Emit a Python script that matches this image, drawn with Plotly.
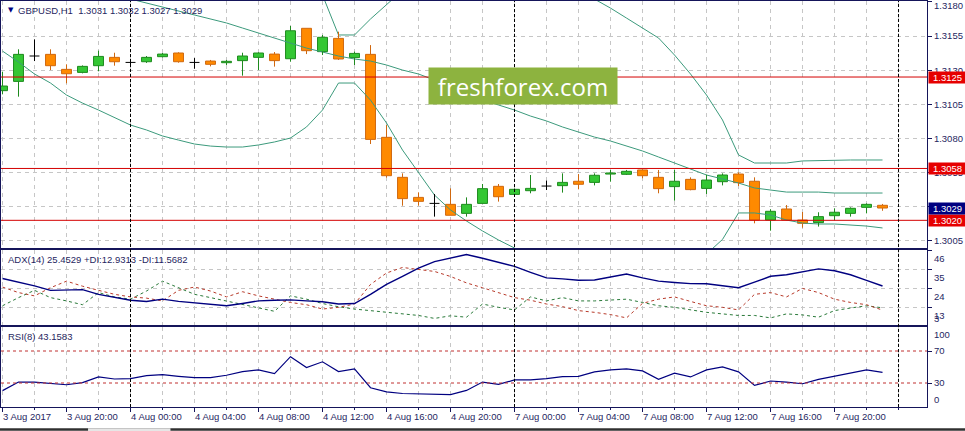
import plotly.graph_objects as go

# ---------------- data ----------------
bars = list(range(56))  # hourly bars, 3 Aug 16:00 .. 7 Aug 23:00

open_ = [1.31150, 1.31218, 1.31404, 1.31416, 1.31306, 1.31284, 1.31333, 1.31394, 1.31357, 1.31362,
         1.31399, 1.31426, 1.31357, 1.31367, 1.31355, 1.31370, 1.31394, 1.31418, 1.31384, 1.31607,
         1.31436, 1.31533, 1.31392, 1.31416, 1.30808, 1.30515, 1.30368, 1.30324, 1.30317, 1.30251,
         1.30324, 1.30449, 1.30390, 1.30417, 1.30451, 1.30454, 1.30486, 1.30478, 1.30539, 1.30537,
         1.30569, 1.30515, 1.30447, 1.30500, 1.30434, 1.30483, 1.30539, 1.30486, 1.30202, 1.30283,
         1.30202, 1.30183, 1.30234, 1.30251, 1.30295, 1.30310]
high = [1.31289, 1.31453, 1.31526, 1.31453, 1.31343, 1.31335, 1.31443, 1.31428, 1.31375, 1.31404,
        1.31426, 1.31431, 1.31389, 1.31375, 1.31375, 1.31428, 1.31431, 1.31433, 1.31624, 1.31607,
        1.31558, 1.31582, 1.31436, 1.31484, 1.30898, 1.30544, 1.30405, 1.30393, 1.30434, 1.30368,
        1.30466, 1.30466, 1.30432, 1.30532, 1.30491, 1.30544, 1.30539, 1.30544, 1.30569, 1.30569,
        1.30574, 1.30569, 1.30569, 1.30515, 1.30534, 1.30544, 1.30551, 1.30515, 1.30281, 1.30312,
        1.30261, 1.30259, 1.30288, 1.30295, 1.30324, 1.30320]
low = [1.31123, 1.31106, 1.31367, 1.31301, 1.31204, 1.31277, 1.31292, 1.31333, 1.31323, 1.31353,
       1.31394, 1.31355, 1.31311, 1.31328, 1.31338, 1.31260, 1.31301, 1.31326, 1.31362, 1.31418,
       1.31411, 1.31375, 1.31338, 1.30759, 1.30513, 1.30307, 1.30307, 1.30227, 1.30237, 1.30227,
       1.30324, 1.30337, 1.30386, 1.30398, 1.30422, 1.30403, 1.30427, 1.30456, 1.30483, 1.30532,
       1.30508, 1.30398, 1.30344, 1.30420, 1.30393, 1.30456, 1.30451, 1.30178, 1.30124, 1.30200,
       1.30146, 1.30154, 1.30202, 1.30227, 1.30251, 1.30270]
close = [1.31184, 1.31416, 1.31404, 1.31333, 1.31274, 1.31328, 1.31401, 1.31362, 1.31357, 1.31394,
         1.31418, 1.31362, 1.31357, 1.31343, 1.31365, 1.31404, 1.31426, 1.31370, 1.31589, 1.31443,
         1.31541, 1.31382, 1.31423, 1.30793, 1.30527, 1.30359, 1.30339, 1.30324, 1.30237, 1.30317,
         1.30432, 1.30373, 1.30427, 1.30434, 1.30451, 1.30478, 1.30464, 1.30530, 1.30547, 1.30559,
         1.30527, 1.30432, 1.30486, 1.30425, 1.30495, 1.30532, 1.30476, 1.30202, 1.30266, 1.30202,
         1.30178, 1.30227, 1.30259, 1.30288, 1.30317, 1.30290]

bb_upper = [1.32686, 1.32708, 1.32736, 1.32730, 1.32760, 1.32759, 1.32752, 1.32752, 1.32744, 1.32722,
            1.32708, 1.32678, 1.32649, 1.32606, 1.32555, 1.32481, 1.32392, 1.32298, 1.32195, 1.32040,
            1.31851, 1.31558, 1.31558, 1.31675, 1.31777, 1.31887, 1.31990, 1.32071, 1.32092, 1.32071,
            1.32040, 1.32034, 1.32019, 1.31988, 1.31976, 1.31928, 1.31884, 1.31821, 1.31755, 1.31682,
            1.31609, 1.31536, 1.31411, 1.31272, 1.31118, 1.30935, 1.30679, 1.30620, 1.30620, 1.30620,
            1.30635, 1.30638, 1.30642, 1.30642, 1.30642, 1.30642]
bb_middle = [1.32063, 1.32034, 1.32004, 1.31968, 1.31939, 1.31909, 1.31880, 1.31851, 1.31821, 1.31792,
             1.31763, 1.31733, 1.31704, 1.31675, 1.31646, 1.31609, 1.31572, 1.31536, 1.31499, 1.31462,
             1.31433, 1.31404, 1.31382, 1.31367, 1.31338, 1.31301, 1.31272, 1.31228, 1.31184, 1.31133,
             1.31081, 1.31045, 1.31008, 1.30964, 1.30928, 1.30884, 1.30847, 1.30810, 1.30781, 1.30745,
             1.30708, 1.30664, 1.30620, 1.30576, 1.30532, 1.30503, 1.30473, 1.30437, 1.30422, 1.30407,
             1.30407, 1.30407, 1.30400, 1.30400, 1.30400, 1.30400]
bb_lower = [1.31440, 1.31360, 1.31272, 1.31206, 1.31118, 1.31059, 1.31008, 1.30950, 1.30898, 1.30862,
            1.30818, 1.30788, 1.30759, 1.30744, 1.30737, 1.30737, 1.30752, 1.30774, 1.30803, 1.30884,
            1.31008, 1.31206, 1.31206, 1.31081, 1.30913, 1.30715, 1.30554, 1.30385, 1.30276, 1.30195,
            1.30122, 1.30056, 1.29997, 1.29940, 1.29880, 1.29840, 1.29810, 1.29799, 1.29807, 1.29808,
            1.29807, 1.29792, 1.29829, 1.29880, 1.29953, 1.30060, 1.30254, 1.30254, 1.30239, 1.30202,
            1.30180, 1.30173, 1.30173, 1.30166, 1.30158, 1.30144]

adx = [29.8, 27.7, 25.6, 23.0, 23.0, 23.4, 20.7, 18.8, 17.3, 16.6,
       17.9, 16.6, 15.8, 14.9, 14.1, 15.4, 16.9, 17.3, 17.5, 16.9,
       16.4, 15.1, 15.4, 20.7, 26.4, 31.1, 35.8, 39.6, 41.8, 43.7,
       41.5, 39.2, 36.8, 33.4, 30.2, 29.6, 28.8, 29.0, 30.7, 32.4,
       30.2, 28.3, 27.5, 26.9, 26.8, 25.6, 24.5, 27.7, 31.1, 32.0,
       33.9, 35.4, 34.3, 32.0, 28.8, 25.5]
plus_di = [14.1, 18.8, 23.0, 18.8, 16.9, 14.7, 21.7, 19.2, 17.9, 22.6,
           28.3, 24.5, 20.7, 18.8, 16.9, 15.1, 12.8, 10.9, 19.8, 17.9,
           15.4, 13.5, 12.2, 11.3, 10.2, 9.4, 8.5, 6.8, 8.3, 7.5,
           15.1, 13.2, 11.7, 19.2, 16.9, 18.8, 16.9, 16.9, 17.5, 17.9,
           16.0, 14.1, 13.2, 11.7, 10.3, 9.4, 8.5, 8.5, 7.1, 9.4,
           8.8, 7.5, 11.3, 12.8, 14.1, 12.9]
minus_di = [24.9, 21.7, 19.8, 24.5, 28.3, 25.4, 23.0, 20.7, 19.2, 18.5,
            16.9, 23.0, 24.9, 22.6, 19.2, 22.2, 19.8, 17.9, 16.0, 14.7,
            12.2, 13.2, 15.1, 26.4, 33.0, 36.2, 34.9, 33.9, 31.0, 27.3,
            24.5, 21.7, 18.8, 17.3, 15.1, 13.6, 11.3, 10.3, 9.0, 7.1,
            15.5, 17.9, 19.2, 16.6, 14.1, 13.2, 11.7, 20.7, 21.7, 19.2,
            24.1, 21.7, 17.9, 16.0, 14.7, 11.6]
rsi = [20.5, 31.2, 31.2, 29.5, 27.8, 30.4, 37.6, 35.0, 35.4, 39.2,
       40.5, 38.4, 36.7, 36.7, 39.7, 44.3, 46.4, 41.8, 62.9, 49.4,
       56.5, 44.3, 47.7, 24.1, 19.0, 16.9, 16.5, 16.5, 15.4, 20.7,
       31.2, 28.3, 33.8, 33.8, 35.4, 38.0, 38.4, 43.9, 46.4, 47.7,
       45.1, 34.6, 42.2, 37.6, 46.4, 50.2, 43.9, 27.0, 32.5, 31.2,
       29.1, 34.6, 38.8, 42.2, 46.4, 43.2]

level_prices = [1.3125, 1.3058, 1.3020]
level_labels = ["1.3125", "1.3058", "1.3020"]
last_price = 1.3029
last_label = "1.3029"
price_ticks = [1.3005, 1.3030, 1.3055, 1.3080, 1.3105, 1.3130, 1.3155, 1.3180]
price_tick_text = ["1.3005", "1.3030", "1.3055", "1.3080", "1.3105", "1.3130", "1.3155", ""]
price_top_label = "1.3180"
adx_ticks = [46, 35, 24, 13]
adx_min_label = 3
rsi_levels = [70, 30]
rsi_labels = [100, 70, 30, 0]
time_tick_bars = [0, 4, 8, 12, 16, 20, 24, 28, 32, 36, 40, 44, 48, 52]
time_tick_labels = ["3 Aug 2017", "3 Aug 20:00", "4 Aug 00:00", "4 Aug 04:00", "4 Aug 08:00",
                    "4 Aug 12:00", "4 Aug 16:00", "4 Aug 20:00", "7 Aug 00:00", "7 Aug 04:00",
                    "7 Aug 08:00", "7 Aug 12:00", "7 Aug 16:00", "7 Aug 20:00"]
day_separators = [8, 32, 56]
title_text = "GBPUSD,H1\u00a0\u00a01.3031 1.3032 1.3027 1.3029"
adx_title = "ADX(14) 25.4529 +DI:12.9313 -DI:11.5682"
rsi_title = "RSI(8) 43.1583"

# ---------------- styling ----------------
FONT = "Liberation Sans, Arial, sans-serif"
TXT = "#1f1f5f"
FRAME = "#15155a"
GRID = "#c6c6c6"
BULL_FILL, BULL_LINE = "#34c734", "#1e8a1e"
BEAR_FILL, BEAR_LINE = "#ff8a00", "#d0680f"
BAND = "#3c9a7c"
HALF = 0.31

bull_x, bull_b, bull_h = [], [], []
bear_x, bear_b, bear_h = [], [], []
bull_wx, bull_wy, bear_wx, bear_wy = [], [], [], []
doji_x, doji_y = [], []
for i, (o, h, l, c) in enumerate(zip(open_, high, low, close)):
    top, bot = max(o, c), min(o, c)
    if abs(c - o) < 1e-9:
        doji_x += [i - HALF, i + HALF, None, i, i, None]
        doji_y += [o, o, None, h, l, None]
    elif c > o:
        bull_x.append(i); bull_b.append(o); bull_h.append(c - o)
        bull_wx += [i, i, None, i, i, None]
        bull_wy += [h, top, None, bot, l, None]
    else:
        bear_x.append(i); bear_b.append(c); bear_h.append(o - c)
        bear_wx += [i, i, None, i, i, None]
        bear_wy += [h, top, None, bot, l, None]

fig = go.Figure()
# Bollinger bands
for band in (bb_upper, bb_middle, bb_lower):
    fig.add_trace(go.Scatter(x=bars, y=band, mode="lines", line=dict(color=BAND, width=1),
                             hoverinfo="skip", xaxis="x", yaxis="y"))
# candle bodies
fig.add_trace(go.Bar(x=bull_x, y=bull_h, base=bull_b, width=0.62,
                     marker=dict(color=BULL_FILL, line=dict(color=BULL_LINE, width=1)),
                     hoverinfo="skip", xaxis="x", yaxis="y"))
fig.add_trace(go.Bar(x=bear_x, y=bear_h, base=bear_b, width=0.62,
                     marker=dict(color=BEAR_FILL, line=dict(color=BEAR_LINE, width=1)),
                     hoverinfo="skip", xaxis="x", yaxis="y"))
# wicks
fig.add_trace(go.Scatter(x=bull_wx, y=bull_wy, mode="lines", line=dict(color=BULL_LINE, width=1),
                         hoverinfo="skip", xaxis="x", yaxis="y"))
fig.add_trace(go.Scatter(x=bear_wx, y=bear_wy, mode="lines", line=dict(color=BEAR_LINE, width=1),
                         hoverinfo="skip", xaxis="x", yaxis="y"))
fig.add_trace(go.Scatter(x=doji_x, y=doji_y, mode="lines", line=dict(color="#000000", width=1),
                         hoverinfo="skip", xaxis="x", yaxis="y"))

# ADX panel
fig.add_trace(go.Scatter(x=bars, y=plus_di, mode="lines",
                         line=dict(color="#2a7a3a", width=1, dash="3px,3px"),
                         hoverinfo="skip", xaxis="x2", yaxis="y2"))
fig.add_trace(go.Scatter(x=bars, y=minus_di, mode="lines",
                         line=dict(color="#b83a2a", width=1, dash="3px,3px"),
                         hoverinfo="skip", xaxis="x2", yaxis="y2"))
fig.add_trace(go.Scatter(x=bars, y=adx, mode="lines", line=dict(color="#000080", width=1.4),
                         hoverinfo="skip", xaxis="x2", yaxis="y2"))
# RSI panel
fig.add_trace(go.Scatter(x=bars, y=rsi, mode="lines", line=dict(color="#000080", width=1.2),
                         hoverinfo="skip", xaxis="x3", yaxis="y3"))

shapes = []
for p in level_prices:
    shapes.append(dict(type="line", xref="paper", x0=0, x1=1, yref="y", y0=p, y1=p,
                       line=dict(color="#d40000", width=1)))
for lv in rsi_levels:
    shapes.append(dict(type="line", xref="paper", x0=0, x1=1, yref="y3", y0=lv, y1=lv,
                       line=dict(color="#c03030", width=1, dash="3px,3px")))
for s in day_separators:
    shapes.append(dict(type="line", xref="x", x0=s, x1=s, yref="paper", y0=0, y1=1,
                       line=dict(color="#000000", width=1, dash="3px,2px")))
# bottom tab strip
shapes.append(dict(type="rect", xref="paper", yref="paper", x0=-0.01, x1=1.05,
                   y0=-0.0585, y1=-0.0525, fillcolor="#303030", line=dict(width=0), layer="above"))
shapes.append(dict(type="rect", xref="paper", yref="paper", x0=0.094, x1=0.183,
                   y0=-0.066, y1=-0.0525, fillcolor="#e6e6e6", line=dict(width=0), layer="above"))

ann = []
# top price label (kept inside the page)
ann.append(dict(xref="paper", x=1, xanchor="left", xshift=5, yref="paper", y=1, yanchor="top",
                yshift=3, text=price_top_label, showarrow=False,
                font=dict(family=FONT, size=9.5, color=TXT)))
# price level labels
for p, t in zip(level_prices, level_labels):
    ann.append(dict(xref="paper", x=1, xanchor="left", xshift=1, yref="y", y=p, text=t,
                    showarrow=False, font=dict(family=FONT, size=9.5, color="white"),
                    bgcolor="#e60000", width=37, height=11, borderpad=0, align="center"))
ann.append(dict(xref="paper", x=1, xanchor="left", xshift=1, yref="y", y=last_price, text=last_label,
                showarrow=False, font=dict(family=FONT, size=9.5, color="white"),
                bgcolor="#000080", width=37, height=11, borderpad=0, align="center"))
# sub-window edge labels
ann.append(dict(xref="paper", x=1, xanchor="left", xshift=5, yref="y2", y=adx_min_label,
                yanchor="bottom", yshift=-1, text=str(adx_min_label), showarrow=False,
                font=dict(family=FONT, size=9.5, color=TXT)))
ann.append(dict(xref="paper", x=1, xanchor="left", xshift=5, yref="y3", y=rsi_labels[0],
                yanchor="top", text=str(rsi_labels[0]), showarrow=False,
                font=dict(family=FONT, size=9.5, color=TXT)))
ann.append(dict(xref="paper", x=1, xanchor="left", xshift=5, yref="y3", y=rsi_labels[-1],
                yanchor="bottom", text=str(rsi_labels[-1]), showarrow=False,
                font=dict(family=FONT, size=9.5, color=TXT)))
# time labels
for b, t in zip(time_tick_bars, time_tick_labels):
    ann.append(dict(xref="x3", x=b, xanchor="left", xshift=-2, yref="paper", y=0, yanchor="top",
                    yshift=-2, text=t, showarrow=False, font=dict(family=FONT, size=9.5, color=TXT)))
# titles
ann.append(dict(xref="paper", x=0, xanchor="left", xshift=5, yref="paper", y=1, yanchor="top",
                yshift=-3, text="\u25bc", showarrow=False, font=dict(family="DejaVu Sans", size=7, color="#000080")))
ann.append(dict(xref="paper", x=0, xanchor="left", xshift=15, yref="paper", y=1, yanchor="top",
                yshift=-2, text=title_text, showarrow=False, font=dict(family=FONT, size=9.5, color=TXT)))
ann.append(dict(xref="paper", x=0, xanchor="left", xshift=5, yref="paper", y=0.3855, yanchor="top",
                yshift=-2, text=adx_title, showarrow=False, font=dict(family=FONT, size=9.5, color=TXT)))
ann.append(dict(xref="paper", x=0, xanchor="left", xshift=5, yref="paper", y=0.197, yanchor="top",
                yshift=-2, text=rsi_title, showarrow=False, font=dict(family=FONT, size=9.5, color=TXT)))
# watermark logo
ann.append(dict(xref="paper", x=0.5637, xanchor="center", yref="paper", y=0.7906, yanchor="middle",
                text="freshforex.com", showarrow=False, bgcolor="#8db33f", width=186, height=34,
                font=dict(family="Open Sans", size=24, color="white")))

xcommon = dict(range=[-0.094, 57.78], tickmode="array", tickvals=time_tick_bars,
               showticklabels=False, showgrid=True, gridcolor=GRID, griddash="4px,4px", gridwidth=1,
               minor=dict(tick0=0, dtick=2, showgrid=True, gridcolor=GRID, griddash="4px,4px"),
               showline=True, mirror=True, linecolor=FRAME, linewidth=1, zeroline=False,
               automargin=False, fixedrange=True)
ycommon = dict(side="right", showline=True, mirror=True, linecolor=FRAME, linewidth=1,
               zeroline=False, automargin=False, ticks="outside", ticklen=4, tickcolor=FRAME,
               tickfont=dict(family=FONT, size=9.5, color=TXT), gridcolor=GRID,
               griddash="4px,4px", fixedrange=True)

fig.update_layout(
    width=965, height=431,
    margin=dict(l=1, r=38, t=1, b=24),
    paper_bgcolor="white", plot_bgcolor="white",
    showlegend=False, barmode="overlay",
    xaxis=dict(xcommon, anchor="y", domain=[0, 1], ticks=""),
    xaxis2=dict(xcommon, anchor="y2", domain=[0, 1], matches="x", ticks=""),
    xaxis3=dict(xcommon, anchor="y3", domain=[0, 1], matches="x", ticks="outside", ticklen=4,
                tickcolor=FRAME),
    yaxis=dict(ycommon, anchor="x", domain=[0.3909, 1], range=[1.29995, 1.31807],
               tickmode="array", tickvals=price_ticks, ticktext=price_tick_text, showgrid=True),
    yaxis2=dict(ycommon, anchor="x2", domain=[0.2020, 0.3855], range=[3, 46],
                tickmode="array", tickvals=adx_ticks, ticklabelshift=8, showgrid=True),
    yaxis3=dict(ycommon, anchor="x3", domain=[0, 0.197], range=[0, 100],
                tickmode="array", tickvals=rsi_levels, showgrid=False),
    shapes=shapes, annotations=ann,
)
fig.update_xaxes(minor_ticks="outside", minor_ticklen=2, minor_tickcolor=FRAME, selector=dict(anchor="y3"))

fig.write_html("out.html", config={"displayModeBar": False},
               post_script="document.body.style.margin='0px';document.body.style.overflow='hidden';")
